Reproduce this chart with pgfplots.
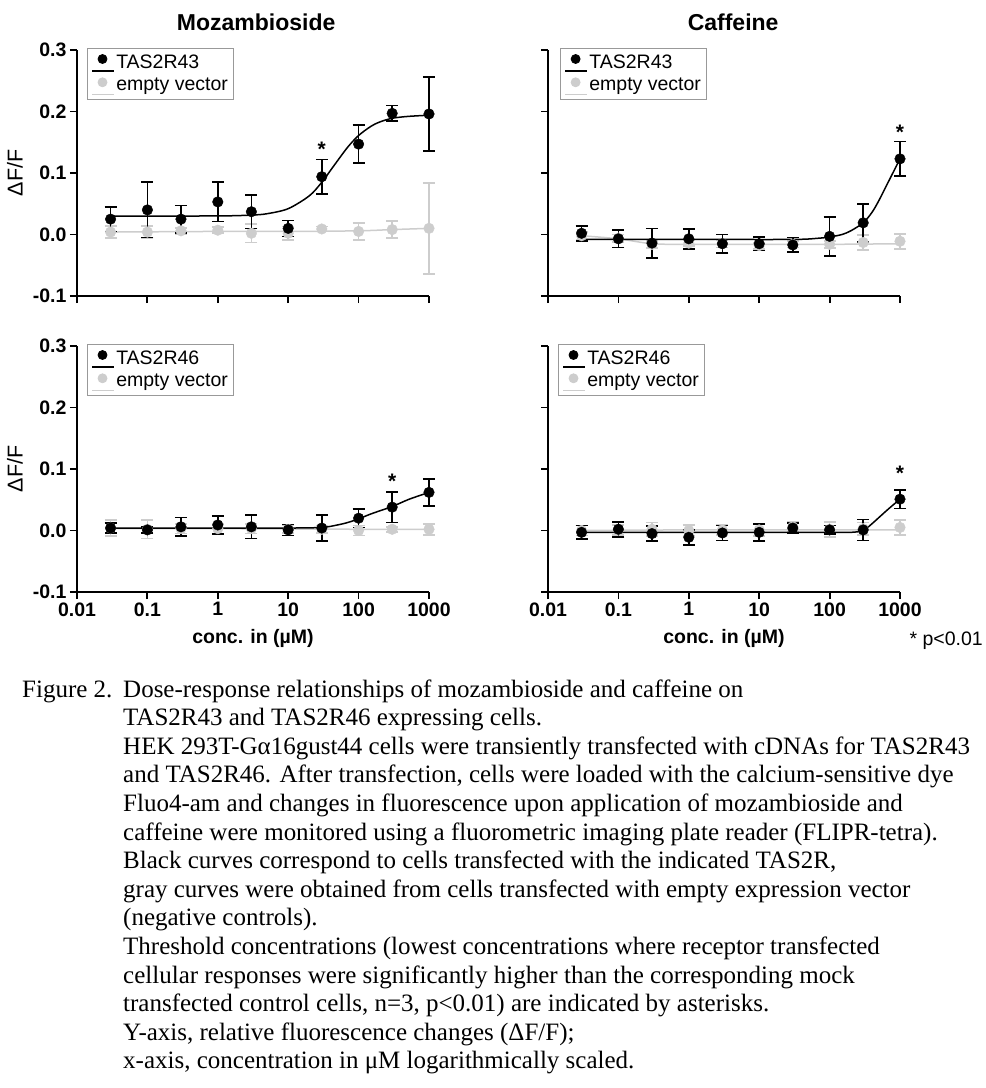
\documentclass[border=0pt]{standalone}
\usepackage{fontspec}
\setmainfont{Liberation Sans}
\newfontfamily\capfont{Liberation Serif}
\usepackage{pgfplots}
\pgfplotsset{compat=1.18}
\definecolor{lg}{RGB}{205,205,205}
\pgfplotsset{
  blk/.style={forget plot, only marks, mark=*, mark size=5.3pt, black, mark options={fill=black, draw=black},
    /pgfplots/error bars/y dir=both, /pgfplots/error bars/y explicit,
    /pgfplots/error bars/error bar style={line width=1.7pt, black},
    /pgfplots/error bars/error mark options={rotate=90, mark size=6pt, line width=1.7pt, black}},
  gry/.style={forget plot, only marks, mark=*, mark size=5.3pt, lg, mark options={fill=lg, draw=lg},
    /pgfplots/error bars/y dir=both, /pgfplots/error bars/y explicit,
    /pgfplots/error bars/error bar style={line width=1.7pt, lg},
    /pgfplots/error bars/error mark options={rotate=90, mark size=6pt, line width=1.7pt, lg}},
  bcurve/.style={forget plot, black, line width=1.5pt, smooth, no markers},
  gcurve/.style={forget plot, lg, line width=1.5pt, smooth, no markers},
}
\newcommand{\legentries}[1]{%
  \addlegendimage{legend image code/.code={\draw[black,line width=1.5pt] (0pt,-9pt) -- (22pt,-9pt); \fill[black] (10.5pt,3pt) circle (4.5pt);}}
  \addlegendentry{#1}
  \addlegendimage{legend image code/.code={\draw[lg,line width=1.5pt] (0pt,-9pt) -- (22pt,-9pt); \fill[lg] (10.5pt,3pt) circle (4.5pt);}}
  \addlegendentry{empty vector}}
\begin{document}
\begin{tikzpicture}
\useasboundingbox (0,0) rectangle (986pt,-1088pt);

% ---------- top left: Mozambioside / TAS2R43
\begin{axis}[scale only axis, width=352pt, height=246pt,
    xmode=log, xmin=0.01, xmax=1000, ymin=-0.1, ymax=0.3,
    axis x line*=bottom, axis y line*=left,
    axis line style={line width=1.8pt, -},
    tick style={line width=1.8pt, black},
    tick align=outside, major tick length=7pt,
    xtick={0.01,0.1,1,10,100,1000}, ytick={-0.1,0,0.1,0.2,0.3},
    xminorticks=false, yminorticks=false, clip=false,
    ticklabel style={font=\bfseries\fontsize{19.5}{21}\selectfont},
    legend cell align=left,
    legend style={at={(0.028,1.008)}, anchor=north west, draw=gray!80, line width=0.8pt,
      font=\fontsize{19.5}{21}\selectfont, inner xsep=4pt, inner ysep=4.5pt, row sep=5pt,
      nodes={inner sep=1.5pt}, /tikz/every even column/.append style={column sep=4pt}},
    ylabel style={at={(axis description cs:-0.176,0.5)}, anchor=center, font=\fontsize{21.5}{24}\selectfont},
  at={(77pt,-296pt)}, anchor=south west,
  xticklabels={}, yticklabels={-0.1,0.0,0.1,0.2,0.3},
  ylabel={ΔF/F},
  title={Mozambioside}, title style={at={(axis description cs:0.509,1.088)}, anchor=center, font=\bfseries\fontsize{23}{26}\selectfont}]
\addplot[gcurve] coordinates {(0.03,0.004) (1,0.005) (10,0.005) (100,0.006) (300,0.008) (1000,0.010)};
\addplot[gry] table[x=x,y=y,y error=e] {
x y e
0.03 0.004 0.010
0.1 0.004 0.010
0.3 0.006 0.005
1 0.007 0.005
3 0.002 0.015
10 0.002 0.011
30 0.009 0.004
100 0.005 0.014
300 0.008 0.014
1000 0.010 0.074
};
\addplot[bcurve] coordinates {(0.03,0.030) (1,0.0302) (3,0.0316) (5,0.0338) (10,0.042) (20,0.063) (30,0.085) (45,0.1125) (70,0.142) (100,0.161) (150,0.176) (200,0.183) (300,0.189) (500,0.192) (1000,0.194)};
\addplot[blk] table[x=x,y=y,y error=e] {
x y e
0.03 0.025 0.020
0.1 0.040 0.045
0.3 0.025 0.022
1 0.053 0.032
3 0.037 0.027
10 0.010 0.013
30 0.094 0.028
100 0.147 0.031
300 0.197 0.013
1000 0.196 0.060
};
\node[font=\bfseries\fontsize{21}{22}\selectfont] at (axis cs:30,0.139) {*};
\legentries{TAS2R43}
\end{axis}

% ---------- top right: Caffeine / TAS2R43
\begin{axis}[scale only axis, width=352pt, height=246pt,
    xmode=log, xmin=0.01, xmax=1000, ymin=-0.1, ymax=0.3,
    axis x line*=bottom, axis y line*=left,
    axis line style={line width=1.8pt, -},
    tick style={line width=1.8pt, black},
    tick align=outside, major tick length=7pt,
    xtick={0.01,0.1,1,10,100,1000}, ytick={-0.1,0,0.1,0.2,0.3},
    xminorticks=false, yminorticks=false, clip=false,
    legend cell align=left,
    legend style={at={(0.034,1.008)}, anchor=north west, draw=gray!80, line width=0.8pt,
      font=\fontsize{19.5}{21}\selectfont, inner xsep=4pt, inner ysep=4.5pt, row sep=5pt,
      nodes={inner sep=1.5pt}, /tikz/every even column/.append style={column sep=4pt}},
  at={(548pt,-296pt)}, anchor=south west,
  xticklabels={}, yticklabels={},
  title={Caffeine}, title style={at={(axis description cs:0.526,1.088)}, anchor=center, font=\bfseries\fontsize{23}{26}\selectfont}]
\addplot[gcurve] coordinates {(0.03,-0.002) (0.1,-0.007) (0.3,-0.015) (1,-0.016) (10,-0.016) (100,-0.016) (1000,-0.015)};
\addplot[gry] table[x=x,y=y,y error=e] {
x y e
0.03 -0.002 0.006
0.1 -0.006 0.006
0.3 -0.016 0.006
1 -0.014 0.005
3 -0.015 0.006
10 -0.018 0.005
30 -0.016 0.005
100 -0.016 0.006
300 -0.013 0.012
1000 -0.011 0.012
};
\addplot[bcurve] coordinates {(0.03,-0.008) (1,-0.008) (30,-0.008) (70,-0.006) (100,-0.004) (150,0.000) (200,0.006) (300,0.019) (400,0.036) (500,0.055) (700,0.088) (1000,0.123)};
\addplot[blk] table[x=x,y=y,y error=e] {
x y e
0.03 0.002 0.012
0.1 -0.007 0.014
0.3 -0.014 0.024
1 -0.007 0.016
3 -0.015 0.015
10 -0.015 0.011
30 -0.017 0.012
100 -0.003 0.032
300 0.019 0.031
1000 0.123 0.028
};
\node[font=\bfseries\fontsize{21}{22}\selectfont] at (axis cs:1000,0.167) {*};
\legentries{TAS2R43}
\end{axis}

% ---------- bottom left: Mozambioside / TAS2R46
\begin{axis}[scale only axis, width=352pt, height=246pt,
    xmode=log, xmin=0.01, xmax=1000, ymin=-0.1, ymax=0.3,
    axis x line*=bottom, axis y line*=left,
    axis line style={line width=1.8pt, -},
    tick style={line width=1.8pt, black},
    tick align=outside, major tick length=7pt,
    xtick={0.01,0.1,1,10,100,1000}, ytick={-0.1,0,0.1,0.2,0.3},
    xminorticks=false, yminorticks=false, clip=false,
    ticklabel style={font=\bfseries\fontsize{19.5}{21}\selectfont},
    legend cell align=left,
    legend style={at={(0.028,1.008)}, anchor=north west, draw=gray!80, line width=0.8pt,
      font=\fontsize{19.5}{21}\selectfont, inner xsep=4pt, inner ysep=4.5pt, row sep=5pt,
      nodes={inner sep=1.5pt}, /tikz/every even column/.append style={column sep=4pt}},
    xlabel style={at={(axis description cs:0.5,-0.187)}, anchor=center, font=\bfseries\fontsize{19.5}{22}\selectfont},
    ylabel style={at={(axis description cs:-0.176,0.5)}, anchor=center, font=\fontsize{21.5}{24}\selectfont},
  at={(77pt,-592pt)}, anchor=south west,
  xticklabels={0.01,0.1,1,10,100,1000}, yticklabels={-0.1,0.0,0.1,0.2,0.3},
  ylabel={ΔF/F}, xlabel={conc. in (µM)}]
\addplot[gcurve] coordinates {(0.03,0.003) (1,0.003) (100,0.002) (1000,0.002)};
\addplot[gry] table[x=x,y=y,y error=e] {
x y e
0.03 0.004 0.013
0.1 0.002 0.015
0.3 0.003 0.008
1 0.003 0.008
3 0.003 0.008
10 0.002 0.006
30 0.002 0.006
100 0.000 0.008
300 0.002 0.004
1000 0.002 0.009
};
\addplot[bcurve] coordinates {(0.03,0.004) (1,0.004) (10,0.004) (30,0.005) (50,0.009) (70,0.013) (100,0.019) (150,0.027) (200,0.032) (300,0.039) (500,0.050) (700,0.056) (1000,0.062)};
\addplot[blk] table[x=x,y=y,y error=e] {
x y e
0.03 0.004 0.008
0.1 0.001 0.005
0.3 0.006 0.015
1 0.009 0.015
3 0.006 0.019
10 0.001 0.009
30 0.004 0.021
100 0.020 0.015
300 0.038 0.025
1000 0.062 0.022
};
\node[font=\bfseries\fontsize{21}{22}\selectfont] at (axis cs:300,0.080) {*};
\legentries{TAS2R46}
\end{axis}

% ---------- bottom right: Caffeine / TAS2R46
\begin{axis}[scale only axis, width=352pt, height=246pt,
    xmode=log, xmin=0.01, xmax=1000, ymin=-0.1, ymax=0.3,
    axis x line*=bottom, axis y line*=left,
    axis line style={line width=1.8pt, -},
    tick style={line width=1.8pt, black},
    tick align=outside, major tick length=7pt,
    xtick={0.01,0.1,1,10,100,1000}, ytick={-0.1,0,0.1,0.2,0.3},
    xminorticks=false, yminorticks=false, clip=false,
    ticklabel style={font=\bfseries\fontsize{19.5}{21}\selectfont},
    legend cell align=left,
    legend style={at={(0.028,1.008)}, anchor=north west, draw=gray!80, line width=0.8pt,
      font=\fontsize{19.5}{21}\selectfont, inner xsep=4pt, inner ysep=4.5pt, row sep=5pt,
      nodes={inner sep=1.5pt}, /tikz/every even column/.append style={column sep=4pt}},
    xlabel style={at={(axis description cs:0.5,-0.187)}, anchor=center, font=\bfseries\fontsize{19.5}{22}\selectfont},
  at={(548pt,-592pt)}, anchor=south west,
  xticklabels={0.01,0.1,1,10,100,1000}, yticklabels={},
  xlabel={conc. in (µM)}]
\addplot[gcurve] coordinates {(0.03,0.000) (1,0.001) (100,0.001) (1000,0.001)};
\addplot[gry] table[x=x,y=y,y error=e] {
x y e
0.03 0.000 0.008
0.1 0.001 0.008
0.3 0.002 0.011
1 0.000 0.009
3 0.001 0.008
10 0.001 0.010
30 0.006 0.008
100 0.002 0.012
300 0.003 0.010
1000 0.005 0.012
};
\addplot[bcurve] coordinates {(0.03,-0.003) (1,-0.003) (100,-0.003) (200,-0.003) (300,0.000) (400,0.011) (500,0.021) (700,0.036) (1000,0.051)};
\addplot[blk] table[x=x,y=y,y error=e] {
x y e
0.03 -0.003 0.011
0.1 0.002 0.012
0.3 -0.005 0.012
1 -0.011 0.012
3 -0.004 0.012
10 -0.003 0.014
30 0.004 0.008
100 0.001 0.007
300 0.001 0.017
1000 0.051 0.015
};
\node[font=\bfseries\fontsize{21}{22}\selectfont] at (axis cs:1000,0.093) {*};
\legentries{TAS2R46}
\end{axis}

\node[anchor=west, font=\fontsize{19.5}{21}\selectfont] at (906pt,-641pt) {* p<0.01};

% ---------- caption
\begin{scope}[every node/.style={anchor=base west, inner sep=0pt, font=\capfont\fontsize{25}{28}\selectfont}]
\node at (22pt,-697pt) {Figure 2.};
\node at (123pt,-697pt) {Dose-response relationships of mozambioside and caffeine on};
\node at (123pt,-725.6pt) {TAS2R43 and TAS2R46 expressing cells.};
\node at (123pt,-754.2pt) {HEK 293T-Gα16gust44 cells were transiently transfected with cDNAs for TAS2R43};
\node at (123pt,-782.8pt) {and TAS2R46. After transfection, cells were loaded with the calcium-sensitive dye};
\node at (123pt,-811.4pt) {Fluo4-am and changes in fluorescence upon application of mozambioside and};
\node at (123pt,-840pt) {caffeine were monitored using a fluorometric imaging plate reader (FLIPR-tetra).};
\node at (123pt,-868.6pt) {Black curves correspond to cells transfected with the indicated TAS2R,};
\node at (123pt,-897.2pt) {gray curves were obtained from cells transfected with empty expression vector};
\node at (123pt,-925.8pt) {(negative controls).};
\node at (123pt,-954.4pt) {Threshold concentrations (lowest concentrations where receptor transfected};
\node at (123pt,-983pt) {cellular responses were significantly higher than the corresponding mock};
\node at (123pt,-1011.6pt) {transfected control cells, n=3, p<0.01) are indicated by asterisks.};
\node at (123pt,-1040.2pt) {Y-axis, relative fluorescence changes (ΔF/F);};
\node at (123pt,-1068.8pt) {x-axis, concentration in μM logarithmically scaled.};
\end{scope}
\end{tikzpicture}
\end{document}
